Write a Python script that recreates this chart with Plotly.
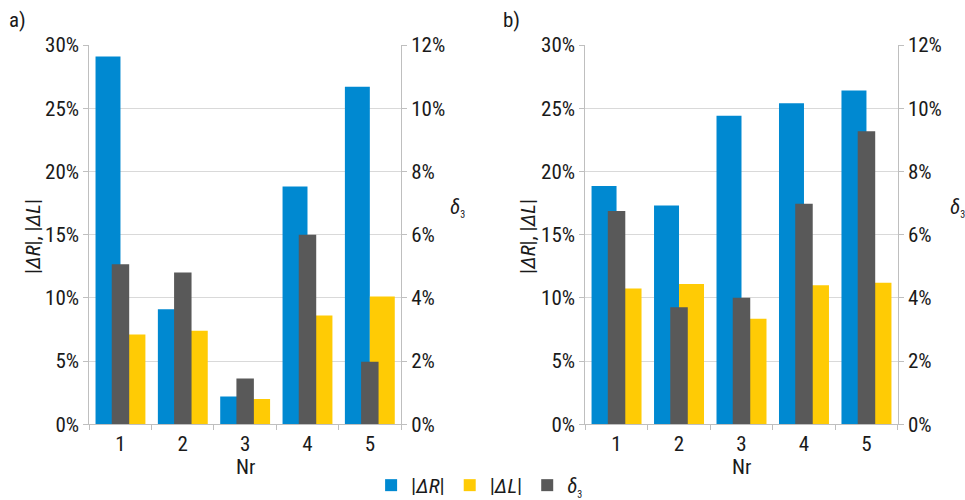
import plotly.graph_objects as go

# Data (values in %)
categories = ["1", "2", "3", "4", "5"]
dR_a = [29.1, 9.1, 2.2, 18.8, 26.7]
dL_a = [7.1, 7.4, 2.0, 8.6, 10.1]
d3_a = [5.06, 4.8, 1.45, 6.0, 1.98]
dR_b = [18.85, 17.3, 24.4, 25.4, 26.4]
dL_b = [10.75, 11.1, 8.35, 11.0, 11.2]
d3_b = [6.75, 3.7, 4.0, 6.98, 9.27]

BLUE = "#0089D1"
YELLOW = "#FFCB05"
GREY = "#595959"
FONT = "Roboto Condensed, Liberation Sans Narrow, DejaVu Sans Condensed, Roboto, sans-serif"
TXT = "#1a1a1a"
GRID = "#d9d9d9"
LINE = "#bfbfbf"
FS = 21
DELTA3 = "<i>δ</i><sub><span style='font-size:10px'>3</span></sub>"

fig = go.Figure()

panels = [
    (dR_a, dL_a, d3_a, "x", "y", "y2", True),
    (dR_b, dL_b, d3_b, "x2", "y3", "y4", False),
]
for dR, dL, d3, xa, ya, ya2, show in panels:
    fig.add_trace(go.Bar(x=categories, y=dR, xaxis=xa, yaxis=ya, name="|<i>ΔR</i>|",
                         marker=dict(color=BLUE, line=dict(width=0)),
                         width=0.4, offset=-0.4, showlegend=show, legendgroup="r"))
    fig.add_trace(go.Bar(x=categories, y=dL, xaxis=xa, yaxis=ya, name="|<i>ΔL</i>|",
                         marker=dict(color=YELLOW, line=dict(width=0)),
                         width=0.4, offset=0.0, showlegend=show, legendgroup="l"))
    fig.add_trace(go.Bar(x=categories, y=d3, xaxis=xa, yaxis=ya2, name=DELTA3,
                         marker=dict(color=GREY, line=dict(width=0)),
                         width=0.28, offset=-0.14, showlegend=show, legendgroup="d"))

ydom = [1 - 424.3 / 500, 1 - 45 / 500]
xdom_a = [89.3 / 965, 401 / 965]
xdom_b = [585.3 / 965, 897.7 / 965]

xcommon = dict(type="category", showline=True, linecolor=LINE, linewidth=1,
               ticks="outside", tickson="boundaries", ticklen=5, tickcolor=LINE,
               showgrid=False, tickfont=dict(family=FONT, size=FS, color=TXT),
               range=[-0.5, 4.5])
yleft = dict(range=[0, 30], dtick=5, ticksuffix="%", showline=True, linecolor=LINE,
             ticks="outside", ticklen=5, tickcolor=LINE, showgrid=True, gridcolor=GRID,
             zeroline=False, tickfont=dict(family=FONT, size=FS, color=TXT), domain=ydom)
yright = dict(range=[0, 12], dtick=2, ticksuffix="%", showline=True, linecolor=LINE,
              ticks="outside", ticklen=5, tickcolor=LINE, showgrid=False, zeroline=False,
              tickfont=dict(family=FONT, size=FS, color=TXT), side="right")

fig.update_layout(
    width=965, height=500,
    margin=dict(l=0, r=0, t=0, b=0, autoexpand=False),
    paper_bgcolor="white", plot_bgcolor="white",
    barmode="overlay",
    xaxis=dict(domain=xdom_a, anchor="y", **xcommon),
    xaxis2=dict(domain=xdom_b, anchor="y3", **xcommon),
    yaxis=dict(anchor="x", **yleft),
    yaxis2=dict(anchor="x", overlaying="y", **yright),
    yaxis3=dict(anchor="x2", **yleft),
    yaxis4=dict(anchor="x2", overlaying="y3", **yright),
    legend=dict(orientation="h", x=0.497, xanchor="center", y=-0.012, yanchor="bottom",
                font=dict(family=FONT, size=FS, color=TXT), itemwidth=30,
                traceorder="normal", bgcolor="rgba(0,0,0,0)"),
    font=dict(family=FONT, color=TXT),
)


def note(text, px, py, **kw):
    return dict(text=text, x=px / 965, y=1 - py / 500, xref="paper", yref="paper",
                xanchor="center", yanchor="middle", showarrow=False,
                font=dict(family=FONT, size=FS, color=TXT), **kw)


ann = [note("a)", 17, 20), note("b)", 511, 20)]
for tx in (33, 528):
    ann.append(note("|<i>ΔR</i>|, |<i>ΔL</i>|", tx, 237, textangle=-90))
for dx in (457, 957):
    ann.append(note(DELTA3, dx, 208))
for nx in (245, 741):
    ann.append(note("Nr", nx, 467))
fig.update_layout(annotations=ann)

fig.write_html("out.html")
